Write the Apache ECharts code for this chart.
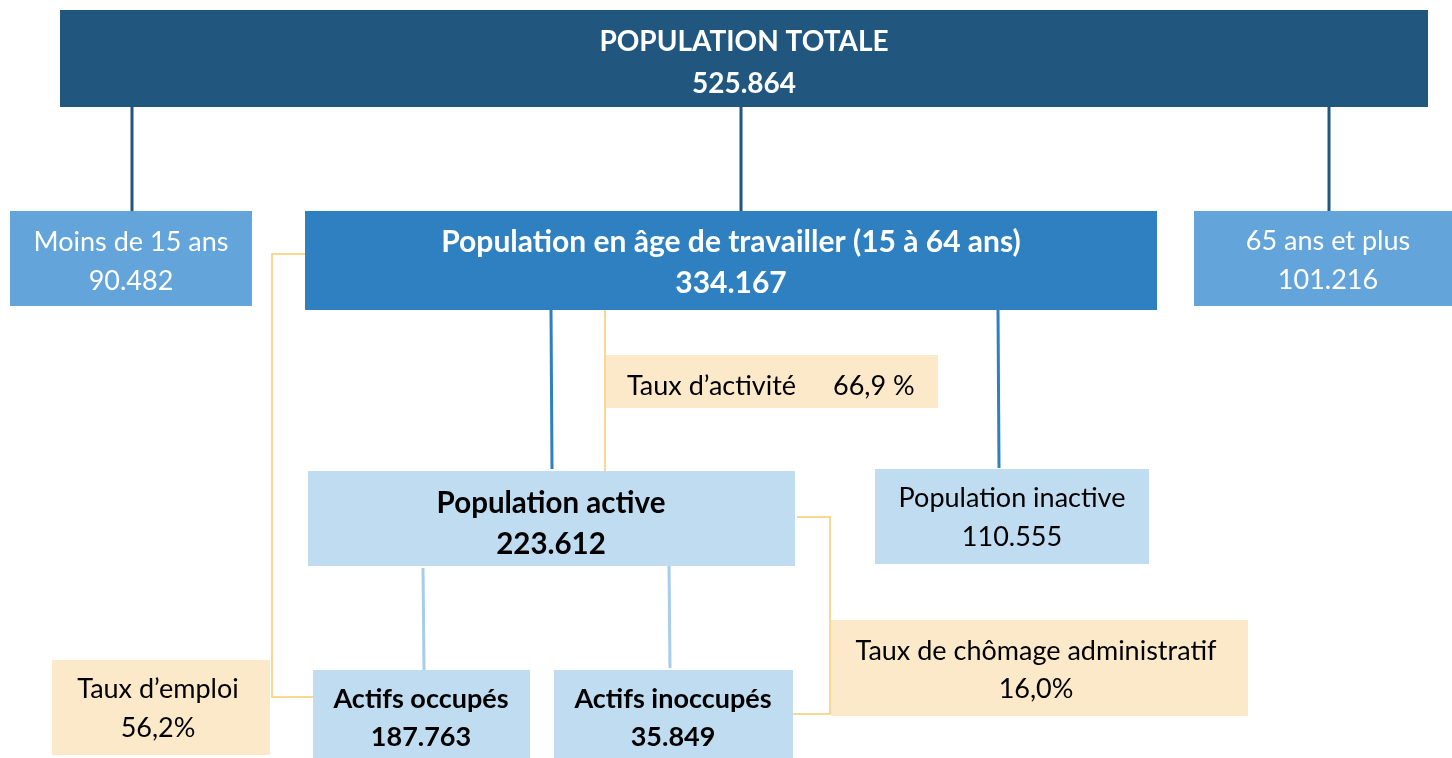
<!DOCTYPE html>
<html><head><meta charset="utf-8">
<script src="https://cdn.jsdelivr.net/npm/echarts@6/dist/echarts.min.js"></script>
<style>html,body{margin:0;padding:0;background:#fff}#c{width:1452px;height:758px}</style>
</head><body><div id="c"></div>
<script>
// ---- data ----
const nodeLabels = ['POPULATION TOTALE', 'Moins de 15 ans', 'Population en âge de travailler (15 à 64 ans)', '65 ans et plus', 'Population active', 'Population inactive', 'Actifs occupés', 'Actifs inoccupés'];
const nodeValues = ['525.864', '90.482', '334.167', '101.216', '223.612', '110.555', '187.763', '35.849'];
const rateLabels = ['Taux d’activité', 'Taux d’emploi', 'Taux de chômage administratif'];
const rateValues = ['66,9 %', '56,2%', '16,0%'];

// ---- layout (box geometry in pixel-space of the hidden axes) ----
// [x0, y0, x1, y1, textCenterX, line1Y, line2Y]
const nodeLayout = [
  [60, 10, 1428, 107, 744, 42, 84],
  [10, 211, 252, 306, 131, 242, 281],
  [305, 211, 1157, 310, 731, 242, 283],
  [1194, 211, 1452, 306, 1328, 241, 280],
  [308, 471, 795, 566, 551, 503, 544],
  [875, 469, 1149, 564, 1012, 498, 537],
  [313, 670, 530, 760, 421, 699, 737],
  [554, 670, 793, 760, 673, 699, 737]
];
// [fill, text colour, weight, font size]
const nodeStyle = [
  ['#21577f', '#ffffff', 'bold', 28],
  ['#63a5da', '#ffffff', 'normal', 27],
  ['#2e80c1', '#ffffff', 'bold', 30],
  ['#63a5da', '#ffffff', 'normal', 27],
  ['#c0dcf1', '#000000', 'bold', 29.5],
  ['#c0dcf1', '#000000', 'normal', 27],
  ['#c0dcf1', '#000000', 'bold', 27],
  ['#c0dcf1', '#000000', 'bold', 27]
];
// rate boxes: [x0,y0,x1,y1, labelX, labelY, valueX, valueY, align]
const rateLayout = [
  [606, 355, 938, 408, 627, 386, 833, 386, 'left'],
  [52, 660, 270, 755, 158, 689, 158, 728, 'center'],
  [831, 620, 1248, 716, 1036, 651, 1036, 689, 'center']
];
const connectors = [
  [[[132, 107], [132, 211]], '#21577f', 3],
  [[[741, 107], [741, 211]], '#21577f', 3],
  [[[1329, 107], [1329, 211]], '#21577f', 3],
  [[[551, 309], [552, 469]], '#2e80c1', 3],
  [[[998, 309], [999, 468]], '#2e80c1', 3],
  [[[423, 568], [424, 670]], '#a6cdeb', 3],
  [[[669, 566], [670, 668]], '#a6cdeb', 3],
  [[[305, 254], [272, 254], [272, 697], [313, 697]], '#f7cb6e', 1.5],
  [[[605, 309], [605, 471]], '#f7cb6e', 1.5],
  [[[797, 517], [830, 517], [830, 714], [790, 714]], '#f7cb6e', 1.5]
];

const FONT = 'Lato, "Open Sans", sans-serif';
const FS = 27;

const chart = echarts.init(document.getElementById('c'), null, {renderer: 'canvas'});
chart.setOption({
  animation: false,
  grid: {left: 0, right: 0, top: 0, bottom: 0},
  xAxis: {type: 'value', min: 0, max: 1452, show: false},
  yAxis: {type: 'value', min: 0, max: 758, inverse: true, show: false},
  series: [
    {
      type: 'lines', coordinateSystem: 'cartesian2d', polyline: true, z: 1,
      data: connectors.map(c => ({coords: c[0], lineStyle: {color: c[1], width: c[2], opacity: 1}})),
      lineStyle: {curveness: 0}
    },
    {
      type: 'custom', z: 2,
      data: nodeLabels.map((_, i) => [i]),
      renderItem: function (params, api) {
        const i = api.value(0);
        const b = nodeLayout[i], s = nodeStyle[i];
        const p0 = api.coord([b[0], b[1]]), p1 = api.coord([b[2], b[3]]);
        const t1 = api.coord([b[4], b[5]]), t2 = api.coord([b[4], b[6]]);
        const font = s[2] + ' ' + s[3] + 'px ' + FONT;
        return {type: 'group', children: [
          {type: 'rect', shape: {x: p0[0], y: p0[1], width: p1[0] - p0[0], height: p1[1] - p0[1]}, style: {fill: s[0]}},
          {type: 'text', style: {x: t1[0], y: t1[1], text: nodeLabels[i], fill: s[1], font: font, align: 'center', verticalAlign: 'middle'}},
          {type: 'text', style: {x: t2[0], y: t2[1], text: nodeValues[i], fill: s[1], font: font, align: 'center', verticalAlign: 'middle'}}
        ]};
      }
    },
    {
      type: 'custom', z: 2,
      data: rateLabels.map((_, i) => [i]),
      renderItem: function (params, api) {
        const i = api.value(0);
        const b = rateLayout[i];
        const p0 = api.coord([b[0], b[1]]), p1 = api.coord([b[2], b[3]]);
        const t1 = api.coord([b[4], b[5]]), t2 = api.coord([b[6], b[7]]);
        const font = 'normal ' + FS + 'px ' + FONT;
        return {type: 'group', children: [
          {type: 'rect', shape: {x: p0[0], y: p0[1], width: p1[0] - p0[0], height: p1[1] - p0[1]}, style: {fill: '#fbe9c9'}},
          {type: 'text', style: {x: t1[0], y: t1[1], text: rateLabels[i], fill: '#000', font: font, align: b[8], verticalAlign: 'middle'}},
          {type: 'text', style: {x: t2[0], y: t2[1], text: rateValues[i], fill: '#000', font: font, align: b[8], verticalAlign: 'middle'}}
        ]};
      }
    }
  ]
});
</script></body></html>
